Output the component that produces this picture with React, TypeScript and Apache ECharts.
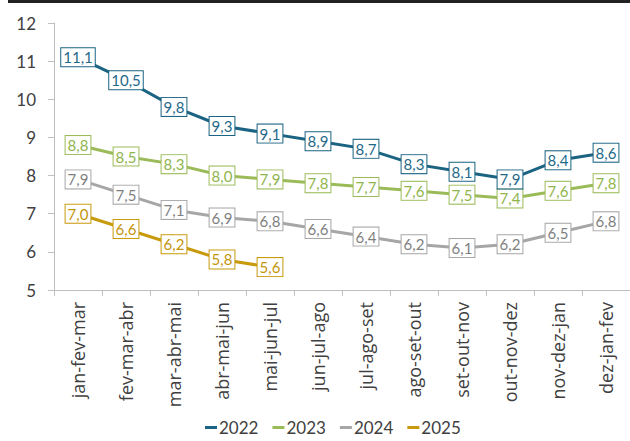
import React, { useEffect, useRef } from "react";
import * as echarts from "echarts";

const categories = [
  "jan-fev-mar", "fev-mar-abr", "mar-abr-mai", "abr-mai-jun", "mai-jun-jul", "jun-jul-ago",
  "jul-ago-set", "ago-set-out", "set-out-nov", "out-nov-dez", "nov-dez-jan", "dez-jan-fev",
];
const s2022 = [11.1, 10.5, 9.8, 9.3, 9.1, 8.9, 8.7, 8.3, 8.1, 7.9, 8.4, 8.6];
const s2023 = [8.8, 8.5, 8.3, 8.0, 7.9, 7.8, 7.7, 7.6, 7.5, 7.4, 7.6, 7.8];
const s2024 = [7.9, 7.5, 7.1, 6.9, 6.8, 6.6, 6.4, 6.2, 6.1, 6.2, 6.5, 6.8];
const s2025 = [7.0, 6.6, 6.2, 5.8, 5.6];
const seriesNames = ["2022", "2023", "2024", "2025"];
const colors = ["#1b6382", "#9bbb59", "#a6a6a6", "#c89a0e"];
const labelColors = ["#1f6a8a", "#8fb54c", "#7f7f7f", "#c4950c"];

const FONT = "Lato, 'Noto Sans', sans-serif";
const XFONT = "'Open Sans', Lato, sans-serif";

export default function App() {
  const ref = useRef<HTMLDivElement>(null);
  useEffect(() => {
    if (!ref.current) return;
    const chart = echarts.init(ref.current, null, { renderer: "svg" });
    const data = [s2022, s2023, s2024, s2025];
    chart.setOption({
      animation: false,
      textStyle: { fontFamily: FONT },
      graphic: [
        { type: "rect", shape: { x: 8, y: 0, width: 622, height: 3 }, style: { fill: "#222" } },
      ],
      legend: {
        bottom: 0,
        left: 200,
        itemWidth: 12,
        itemHeight: 3,
        itemGap: 14,
        icon: "rect",
        textStyle: { fontSize: 17, color: "#404040", fontFamily: FONT, padding: [0, 0, 0, -3] },
        data: seriesNames,
      },
      grid: { left: 54, right: 0, top: 23, bottom: 151 },
      xAxis: {
        type: "category",
        data: categories,
        boundaryGap: true,
        axisLine: { lineStyle: { color: "#bfbfbf", width: 1 } },
        axisTick: { show: true, length: 6, lineStyle: { color: "#bfbfbf" } },
        axisLabel: { rotate: 90, fontSize: 18, color: "#404040", margin: 12, fontFamily: XFONT },
      },
      yAxis: {
        type: "value",
        min: 5,
        max: 12,
        interval: 1,
        splitLine: { show: false },
        axisLine: { show: true, lineStyle: { color: "#bfbfbf", width: 1 } },
        axisTick: { show: true, length: 6, lineStyle: { color: "#bfbfbf" } },
        axisLabel: { fontSize: 17, color: "#404040", margin: 18, fontFamily: FONT },
      },
      series: data.map((d, i) => ({
        name: seriesNames[i],
        type: "line",
        data: d,
        symbol: "rect",
        symbolSize: 2,
        showSymbol: true,
        color: colors[i],
        itemStyle: { color: colors[i] },
        lineStyle: { width: 3, color: colors[i] },
        label: {
          show: true,
          position: "inside",
          formatter: (p: any) => Number(p.value).toFixed(1).replace(".", ","),
          color: labelColors[i],
          fontSize: 15,
          fontFamily: FONT,
          backgroundColor: "#fff",
          borderColor: colors[i],
          borderWidth: 1,
          padding: [2, 2, 1, 2],
        },
        z: 10 - i,
      })),
    });
    return () => chart.dispose();
  }, []);
  return <div ref={ref} style={{ width: 630, height: 441, position: "absolute", left: 0, top: 0 }} />;
}
